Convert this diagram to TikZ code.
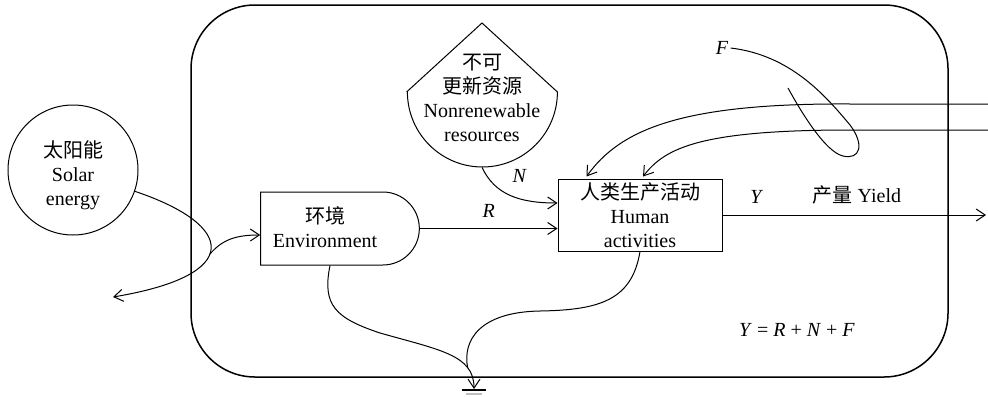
\documentclass[tikz,border=0pt]{standalone}
\usepackage{fontspec}
\setmainfont{Liberation Serif}
\newfontfamily\cjk{Noto Sans CJK SC}
\usetikzlibrary{arrows.meta,calc,shapes.misc}

\begin{document}
\begin{tikzpicture}[x=0.5pt,y=-0.5pt,>={Straight Barb[length=4.5pt,width=6pt]}]

	% Styles
	\tikzset{
		line/.style={line width=0.5pt},
		flow/.style={line, ->},
		frame/.style={line width=0.75pt, rounded corners=32pt},
		txt/.style={align=center, inner sep=0pt},
	}

	\useasboundingbox (0,0) rectangle (988,396);

	% System boundary
	\draw[frame] (191,5) rectangle (948,377);

	% Sources and storages
	\node[line, draw, circle, minimum size=65pt, inner sep=0pt] (sun) at (73,170) {};
	\node[txt] (suntext) at (73,175) {{\cjk 太阳能}\\Solar\\energy};

	\node[line, draw, rounded rectangle, rounded rectangle west arc=none,
		minimum width=86pt, minimum height=36.5pt] (env) at (340,228.5) {};
	\node[txt] (envtext) at (325,227) {{\cjk 环境}\\Environment};

	\node[circle, minimum size=75pt, inner sep=0pt] (nonren) at (482,92) {};
	\draw[line] (nonren.west) -- (482,23) coordinate (apex) -- (nonren.east)
		arc[start angle=0, end angle=180, radius=75];
	\node[txt] (nonrentext) at (482,98) {{\cjk 不可}\\{\cjk 更新资源}\\Nonrenewable\\resources};

	\node[line, draw, minimum width=82pt, minimum height=36pt, txt] (hum) at (640,215)
		{{\cjk 人类生产活动}\\Human\\activities};

	% Free ends
	\coordinate (sunout) at (113,297);
	\coordinate (fin1) at (988,104);
	\coordinate (fin2) at (988,130);
	\coordinate (yend) at (986,215);
	\coordinate (gnd) at (474,389);

	% Solar energy
	\draw[flow] (sun.-19) .. controls (235,225) and (245,275) .. (sunout)
		coordinate[pos=0.55] (br);
	\draw[flow] (br) .. controls (222,240) and (235,235) .. ($(env.west)+(0,6.5)$);

	% Inflows
	\draw[flow] (env.east) -- node[above=2pt] {\textit{R}} (env.east -| hum.west);
	\draw[flow] (nonren.south) .. controls (495,195) and (520,203) .. ($(hum.west)+(0,-12)$)
		node[pos=0.4, above right=1pt] {\textit{N}};
	\draw[flow] (fin1) -- (850,104) .. controls (680,103) and (620,130) .. ($(hum.north west)+(29,-2)$);
	\draw[flow] (fin2) -- (850,130) .. controls (700,130) and (665,148) .. ($(hum.north)+(3,-2)$);

	% Feedback F
	\node[inner sep=1pt] (flab) at (722,48) {\textit{F}};
	\draw[line] (flab.east) .. controls (790,55) and (825,95) .. (850,125)
		.. controls (865,145) and (860,160) .. (843,156)
		.. controls (825,152) and (800,110) .. (788,88);

	% Yield
	\draw[flow] (hum.east) -- node[pos=0.13, above=2pt] {\textit{Y}}
		node[pos=0.51, above=2pt] {{\cjk 产量} Yield} (yend);
	\node (eq) at (797,330) {\textit{Y} = \textit{R} + \textit{N} + \textit{F}};

	% Heat sink
	\draw[flow] ($(env.south)+(-10,0)$) .. controls (322,305) and (335,318) .. (380,333)
		.. controls (440,350) and (474,355) .. (gnd) coordinate[pos=0.75] (merge);
	\draw[line] (hum.south) .. controls (632,300) and (600,310) .. (540,311)
		.. controls (480,312) and (462,340) .. (merge);
	\draw[line width=1pt] ($(gnd)+(-12,1)$) -- ($(gnd)+(12,1)$);
	\draw[gray!50, line width=1pt] ($(gnd)+(-8,5)$) -- ($(gnd)+(8,5)$);

\end{tikzpicture}
\end{document}
